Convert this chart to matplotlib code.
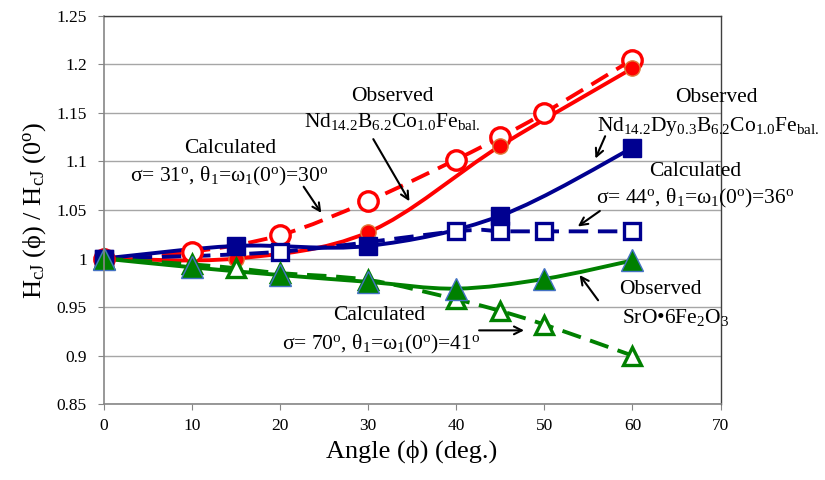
import matplotlib
matplotlib.use('Agg')
import matplotlib.pyplot as plt
from matplotlib.path import Path
from matplotlib.patches import PathPatch

plt.rcParams['font.family'] = ['Liberation Serif', 'DejaVu Serif']
plt.rcParams['mathtext.fontset'] = 'custom'
plt.rcParams['mathtext.rm'] = 'Liberation Serif'
plt.rcParams['mathtext.it'] = 'Liberation Serif:italic'

# NdFeB (red)
nd_obs_x = [0, 15, 30, 45, 60]
nd_obs_y = [1.0, 1.0, 1.027, 1.116, 1.196]
nd_calc_x = [0, 10, 20, 30, 40, 45, 50, 60]
nd_calc_y = [1.0, 1.007, 1.024, 1.059, 1.102, 1.125, 1.150, 1.205]

# NdDyFeB (blue)
dy_obs_x = [0, 15, 30, 45, 60]
dy_obs_y = [1.0, 1.013, 1.013, 1.044, 1.114]
dy_calc_x = [0, 20, 40, 45, 50, 60]
dy_calc_y = [1.0, 1.007, 1.028, 1.028, 1.028, 1.028]

# SrO-6Fe2O3 (green)
sr_obs_x = [0, 10, 20, 30, 40, 50, 60]
sr_obs_y = [1.0, 0.991, 0.983, 0.976, 0.969, 0.979, 0.998]
sr_calc_x = [0, 10, 15, 20, 30, 40, 45, 50, 60]
sr_calc_y = [1.0, 0.994, 0.990, 0.985, 0.978, 0.958, 0.946, 0.932, 0.900]


def smooth_path(xs, ys):
    # excel-like smoothed line: bezier segments through the points
    pts = list(zip(xs, ys))
    verts = [pts[0]]
    codes = [Path.MOVETO]
    n = len(pts)
    for i in range(n - 1):
        p0 = pts[i - 1] if i > 0 else pts[i]
        p1 = pts[i]
        p2 = pts[i + 1]
        p3 = pts[i + 2] if i + 2 < n else pts[i + 1]
        c1 = (p1[0] + (p2[0] - p0[0]) / 6, p1[1] + (p2[1] - p0[1]) / 6)
        c2 = (p2[0] - (p3[0] - p1[0]) / 6, p2[1] - (p3[1] - p1[1]) / 6)
        verts += [c1, c2, p2]
        codes += [Path.CURVE4] * 3
    return Path(verts, codes)


fig = plt.figure(figsize=(8.25, 4.8), dpi=100)
ax = fig.add_axes([0.1255, 0.158, 0.748, 0.809])

red = '#FF0000'
navy = '#000090'
green = '#008000'
dash = (0, (5, 2.5))
lw = 2.8

series = [
    (nd_calc_x, nd_calc_y, red, dash, dict(marker='o', ms=14, mfc='white', mec=red, mew=2.4)),
    (nd_obs_x, nd_obs_y, red, '-', dict(marker='o', ms=11, mfc=red, mec='#E07B39', mew=1)),
    (dy_calc_x, dy_calc_y, navy, dash, dict(marker='s', ms=11, mfc='white', mec=navy, mew=2.4)),
    (dy_obs_x, dy_obs_y, navy, '-', dict(marker='s', ms=13, mfc=navy, mec=navy, mew=1)),
    (sr_calc_x, sr_calc_y, green, dash, dict(marker='^', ms=13, mfc='white', mec=green, mew=2.4)),
    (sr_obs_x, sr_obs_y, green, '-', dict(marker='^', ms=16, mfc=green, mec='#4472C4', mew=1)),
]
for xs, ys, c, ls, mk in series:
    ax.add_patch(PathPatch(smooth_path(xs, ys), fill=False, edgecolor=c,
                           lw=lw, linestyle=ls, capstyle='butt', clip_on=False))
    ax.plot(xs, ys, linestyle='none', clip_on=False, **mk)

ax.set_xlim(0, 70)
ax.set_ylim(0.85, 1.25)
ax.set_xticks(range(0, 71, 10))
ax.set_yticks([0.85, 0.9, 0.95, 1, 1.05, 1.1, 1.15, 1.2, 1.25])
ax.set_yticklabels(['0.85', '0.9', '0.95', '1', '1.05', '1.1', '1.15', '1.2', '1.25'])
ax.yaxis.grid(True, color='#A6A6A6', lw=1)
ax.set_axisbelow(True)
for s in ['left', 'bottom']:
    ax.spines[s].set_color('#868686')
    ax.spines[s].set_linewidth(1.2)
for s in ['top', 'right']:
    ax.spines[s].set_color('#404040')
    ax.spines[s].set_linewidth(1)
ax.tick_params(axis='both', labelsize=12.5, color='#868686', length=4)
ax.tick_params(axis='x', pad=6)
ax.tick_params(axis='y', pad=8)

ax.set_xlabel('Angle (ϕ) (deg.)', fontsize=19, labelpad=4)
ax.set_ylabel(r'H$_{\rm cJ}$ (ϕ) / H$_{\rm cJ}$ (0$^{\rm o}$)', fontsize=19, labelpad=6)

fs = 15.5
txt = [
    (32.8, 1.167, 'Observed'),
    (32.8, 1.141, r'Nd$_{14.2}$B$_{6.2}$Co$_{1.0}$Fe$_{\rm bal.}$'),
    (14.4, 1.113, 'Calculated'),
    (14.3, 1.085, r'σ= 31$^{\rm o}$, θ$_1$=ω$_1$(0$^{\rm o}$)=30$^{\rm o}$'),
    (69.5, 1.166, 'Observed'),
    (68.6, 1.136, r'Nd$_{14.2}$Dy$_{0.3}$B$_{6.2}$Co$_{1.0}$Fe$_{\rm bal.}$'),
    (67.1, 1.090, 'Calculated'),
    (67.1, 1.062, r'σ= 44$^{\rm o}$, θ$_1$=ω$_1$(0$^{\rm o}$)=36$^{\rm o}$'),
    (63.2, 0.968, 'Observed'),
    (64.9, 0.939, r'SrO•6Fe$_2$O$_3$'),
    (31.3, 0.941, 'Calculated'),
    (31.5, 0.911, r'σ= 70$^{\rm o}$, θ$_1$=ω$_1$(0$^{\rm o}$)=41$^{\rm o}$'),
]
for x, y, s in txt:
    ax.text(x, y, s, fontsize=fs, ha='center', va='center')

arrows = [
    ((30.6, 1.123), (34.7, 1.059)),
    ((22.7, 1.074), (24.7, 1.047)),
    ((56.9, 1.126), (55.8, 1.103)),
    ((56.3, 1.049), (53.8, 1.033)),
    ((56.1, 0.957), (54.0, 0.983)),
    ((42.6, 0.926), (47.7, 0.926)),
]
for start, end in arrows:
    ax.annotate('', xy=end, xytext=start,
                arrowprops=dict(arrowstyle='->', color='black', lw=1.5,
                                shrinkA=0, shrinkB=0, mutation_scale=14))

fig.savefig('out.png', dpi=100)
